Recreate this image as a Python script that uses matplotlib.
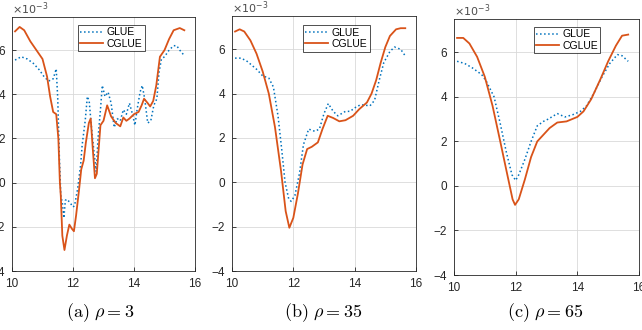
import matplotlib
matplotlib.use("Agg")
import matplotlib.pyplot as plt

plt.rcParams['font.family'] = ['Liberation Sans', 'DejaVu Sans']
plt.rcParams['mathtext.fontset'] = 'cm'

# ---- data (values in units of 1e-3) ----
a_glue_x = [10.1, 10.3, 10.5, 10.7, 10.9, 11.05, 11.2, 11.35, 11.45, 11.5, 11.55, 11.6, 11.65, 11.7, 11.75, 11.8, 11.9, 12.0, 12.05,
            12.15, 12.25, 12.3, 12.4, 12.47, 12.53, 12.6, 12.68, 12.76, 12.82, 12.9, 12.96, 13.05, 13.15, 13.25, 13.35,
            13.45, 13.55, 13.65, 13.75, 13.85, 13.95, 14.03, 14.1, 14.2, 14.27, 14.35, 14.45, 14.55, 14.65, 14.75, 14.82,
            14.9, 15.0, 15.15, 15.3, 15.4, 15.5, 15.65]
a_glue_y = [5.55, 5.7, 5.6, 5.4, 5.1, 4.8, 4.6, 4.7, 5.15, 3.8, 1.3, -0.6, -0.9, -1.6, -0.8, -0.75, -0.9, -1.1, -1.05,
            -0.3, 0.8, 1.7, 2.8, 3.9, 3.7, 2.6, 1.5, 0.5, 2.0, 3.3, 4.4, 3.9, 4.1, 3.6, 2.5,
            2.9, 2.8, 3.3, 3.1, 3.6, 3.1, 2.6, 3.3, 4.1, 4.4, 3.8, 2.7, 2.8, 3.5, 3.8, 5.0,
            5.6, 5.7, 6.0, 6.2, 6.2, 6.0, 5.75]
a_cglue_x = [10.1, 10.25, 10.4, 10.6, 10.8, 11.0, 11.15, 11.25, 11.35, 11.45, 11.52, 11.57, 11.6, 11.65, 11.72, 11.8, 11.88,
             11.97, 12.03, 12.1, 12.2, 12.27, 12.35, 12.42, 12.52, 12.58, 12.65, 12.72, 12.78, 12.84, 12.9, 13.0, 13.12,
             13.25, 13.4, 13.55, 13.65, 13.75, 13.85, 14.0, 14.15, 14.25, 14.33, 14.45, 14.53, 14.63, 14.73, 14.85, 15.0,
             15.15, 15.3, 15.5, 15.65]
a_cglue_y = [6.85, 7.05, 6.9, 6.4, 6.0, 5.6, 4.8, 3.9, 3.2, 3.1, 2.0, 0.0, -0.6, -2.4, -3.05, -2.4, -1.9,
             -2.1, -2.2, -1.5, -0.3, 0.6, 1.0, 1.8, 2.7, 2.9, 1.5, 0.2, 0.4, 1.5, 2.6, 2.8, 3.5,
             3.0, 2.7, 2.55, 2.95, 2.8, 2.9, 3.1, 3.2, 3.5, 3.8, 3.6, 3.45, 3.7, 4.4, 5.7, 6.0,
             6.5, 6.9, 7.0, 6.9]

b_glue_x = [10.1, 10.3, 10.5, 10.8, 11.0, 11.2, 11.35, 11.5, 11.62, 11.73, 11.85, 11.93, 12.05, 12.2, 12.33, 12.5, 12.7,
            12.85, 13.0, 13.14, 13.3, 13.45, 13.7, 13.85, 14.05, 14.2, 14.5, 14.65, 14.8, 14.95, 15.15, 15.3, 15.5, 15.65]
b_glue_y = [5.6, 5.6, 5.45, 5.1, 4.8, 4.7, 4.3, 3.0, 1.5, 0.0, -0.75, -0.86, -0.6, 0.4, 1.7, 2.4, 2.3,
            2.4, 3.1, 3.55, 3.2, 3.0, 3.2, 3.2, 3.4, 3.5, 3.45, 3.7, 4.6, 5.4, 5.9, 6.1, 6.0, 5.7]
b_cglue_x = [10.1, 10.25, 10.4, 10.6, 10.8, 11.0, 11.2, 11.4, 11.6, 11.75, 11.87, 12.0, 12.15, 12.3, 12.45, 12.6, 12.8,
             12.95, 13.12, 13.3, 13.5, 13.7, 13.95, 14.15, 14.4, 14.55, 14.7, 14.85, 15.0, 15.15, 15.35, 15.5, 15.65]
b_cglue_y = [6.8, 6.9, 6.8, 6.4, 5.8, 5.0, 4.0, 2.5, 0.5, -1.3, -2.05, -1.6, -0.5, 0.8, 1.5, 1.6, 1.8,
             2.4, 3.0, 2.9, 2.75, 2.8, 3.0, 3.3, 3.6, 4.0, 4.6, 5.4, 6.1, 6.6, 6.9, 6.95, 6.95]

c_glue_x = [10.1, 10.35, 10.6, 10.9, 11.05, 11.3, 11.5, 11.7, 11.88, 12.0, 12.1, 12.3, 12.5, 12.7, 12.9, 13.05, 13.35,
            13.6, 13.85, 14.1, 14.3, 14.55, 14.8, 15.05, 15.3, 15.45, 15.65]
c_glue_y = [5.6, 5.5, 5.3, 5.0, 4.7, 4.0, 2.8, 1.5, 0.5, 0.25, 0.5, 1.2, 2.0, 2.7, 2.9, 3.0, 3.25,
            3.1, 3.2, 3.35, 3.6, 4.2, 4.9, 5.5, 5.9, 5.85, 5.6]
c_cglue_x = [10.1, 10.3, 10.5, 10.75, 11.0, 11.25, 11.5, 11.73, 11.9, 11.98, 12.1, 12.3, 12.5, 12.7, 12.9, 13.1, 13.35,
             13.65, 14.0, 14.2, 14.45, 14.75, 15.0, 15.25, 15.45, 15.65]
c_cglue_y = [6.65, 6.65, 6.4, 5.8, 4.9, 3.6, 2.0, 0.5, -0.6, -0.85, -0.6, 0.3, 1.3, 2.0, 2.3, 2.6, 2.85,
             2.9, 3.1, 3.35, 3.9, 4.8, 5.6, 6.3, 6.75, 6.8]

captions = [r'$\mathrm{(a)}\ \rho = 3$', r'$\mathrm{(b)}\ \rho = 35$', r'$\mathrm{(c)}\ \rho = 65$']
series_names = ['GLUE', 'CGLUE']
x_ticks = [10, 12, 14, 16]
y_ticks = [-4, -2, 0, 2, 4, 6]

panels = [(a_glue_x, a_glue_y, a_cglue_x, a_cglue_y),
          (b_glue_x, b_glue_y, b_cglue_x, b_cglue_y),
          (c_glue_x, c_glue_y, c_cglue_x, c_cglue_y)]

positions = [[12/642, 59/330, 183/642, 254/330],
             [232/642, 59/330, 184/642, 255/330],
             [454/642, 55/330, 185/642, 256/330]]
legend_anchor = [(0.36, 0.97), (0.385, 0.965), (0.43, 0.97)]
caption_x = [100/642, 323/642, 545/642]

blue = (0.0, 0.447, 0.741)
red = (0.85, 0.325, 0.098)
axcol = (0.15, 0.15, 0.15)

fig = plt.figure(figsize=(6.42, 3.30), dpi=100)
for i, (gx, gy, cx, cy) in enumerate(panels):
    ax = fig.add_axes(positions[i])
    ax.plot(gx, gy, ':', color=blue, lw=1.1, label=series_names[0])
    ax.plot(cx, cy, '-', color=red, lw=1.3, label=series_names[1])
    ax.set_xlim(10, 16)
    ax.set_ylim(-4, 7.5)
    ax.set_xticks(x_ticks)
    ax.set_yticks(y_ticks)
    ax.grid(True, color=(0.85, 0.85, 0.85), lw=0.6)
    ax.set_axisbelow(True)
    ax.tick_params(direction='in', length=3, width=0.6, labelsize=8.5, colors=axcol, pad=5)
    for s in ax.spines.values():
        s.set_color(axcol)
        s.set_linewidth(0.6)
    leg = ax.legend(loc='upper left', bbox_to_anchor=legend_anchor[i], fontsize=7.5, frameon=True,
                    fancybox=False, edgecolor='black', handlelength=2.2, handletextpad=0.3,
                    borderpad=0.25, labelspacing=0.15, borderaxespad=0)
    leg.get_frame().set_linewidth(0.6)
    ax.text(0.0, 1.0 + 3.5/254, r'$\times10^{-3}$', transform=ax.transAxes, fontsize=8, color=(0.3, 0.3, 0.3),
            ha='left', va='baseline', math_fontfamily='dejavusans')
    fig.text(caption_x[i], 17/330, captions[i], fontsize=13, ha='center', va='center')

fig.savefig('out.png', dpi=100)
